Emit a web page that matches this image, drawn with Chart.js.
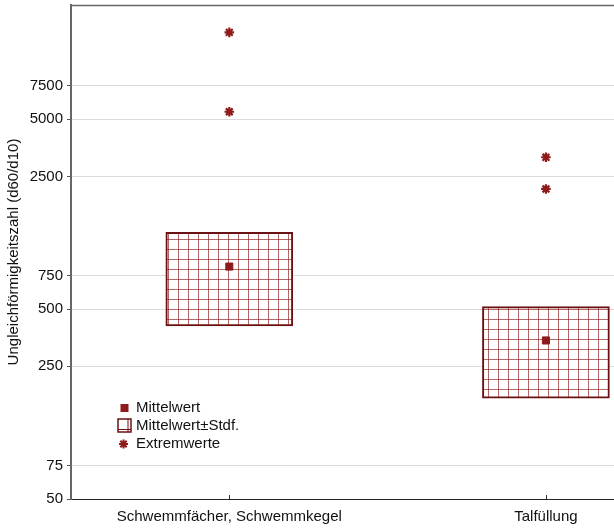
<!DOCTYPE html>
<html>
<head>
<meta charset="utf-8">
<script src="https://cdn.jsdelivr.net/npm/chart.js@4/dist/chart.umd.min.js"></script>
<style>
  html, body { margin: 0; padding: 0; background: #fff; }
  canvas { display: block; }
</style>
</head>
<body>
<canvas id="c" width="614" height="529"></canvas>
<script>
// data
const categories = ['Schwemmfächer, Schwemmkegel', 'Talfüllung']
const catPos = [1, 2]
const means = [838, 342]
const stdLow = [408, 170]
const stdHigh = [1271, 516]
const extremeCat = [1, 1, 2, 2]
const extremeVals = [14350, 5480, 3155, 2148]
const yTicks = [50, 75, 250, 500, 750, 2500, 5000, 7500]
const yTitle = 'Ungleichförmigkeitszahl (d60/d10)'
const legendLabels = ['Mittelwert', 'Mittelwert±Stdf.', 'Extremwerte']

const FONT = { family: '"Liberation Sans", Arial, sans-serif', size: 15 }
const RED = '#8e1b1b'
const DARK = '#6a1212'

// Gitter-Muster für die Boxen
const tile = document.createElement('canvas')
tile.width = 10
tile.height = 10
const tctx = tile.getContext('2d')
tctx.fillStyle = '#ffffff'
tctx.fillRect(0, 0, 10, 10)
tctx.fillStyle = 'rgba(140, 25, 25, 0.65)'
tctx.fillRect(8, 0, 1, 10)
tctx.fillRect(0, 9, 10, 1)
const ctx = document.getElementById('c').getContext('2d')
const pattern = ctx.createPattern(tile, 'repeat')

const noPad = s => {
  s.paddingTop = 0
  s.paddingBottom = 0
  s.paddingLeft = 0
  s.paddingRight = 0
}

const framePlugin = {
  id: 'frame',
  afterDraw(chart) {
    const c = chart.ctx
    const a = chart.chartArea
    const xs = chart.scales.x
    c.save()
    // obere Linie
    c.strokeStyle = '#666'
    c.lineWidth = 1.5
    c.beginPath()
    c.moveTo(a.left, a.top + 0.5)
    c.lineTo(a.right, a.top + 0.5)
    c.stroke()
    // kleine Striche an der x-Achse
    c.strokeStyle = '#333'
    c.lineWidth = 1
    catPos.forEach(p => {
      const px = Math.round(xs.getPixelForValue(p)) + 0.5
      c.beginPath()
      c.moveTo(px, a.bottom)
      c.lineTo(px, a.bottom - 4)
      c.stroke()
    })
    // Legende
    const lx = 124.5
    const tx = 136
    const rows = [408, 426, 444]
    c.font = `${FONT.size}px ${FONT.family}`
    c.fillStyle = '#111'
    c.textBaseline = 'middle'
    c.textAlign = 'left'
    legendLabels.forEach((t, i) => c.fillText(t, tx, rows[i]))
    // Mittelwert
    c.fillStyle = RED
    c.fillRect(lx - 4, rows[0] - 4, 8, 8)
    // Box
    c.strokeStyle = DARK
    c.lineWidth = 1.5
    c.strokeRect(lx - 6.5, rows[1] - 7, 13, 13)
    c.lineWidth = 1
    c.beginPath()
    c.moveTo(lx - 6.5, rows[1] + 3.5)
    c.lineTo(lx + 6.5, rows[1] + 3.5)
    c.moveTo(lx + 3.5, rows[1] - 7)
    c.lineTo(lx + 3.5, rows[1] + 6)
    c.stroke()
    // Stern
    c.strokeStyle = RED
    c.lineWidth = 2
    const r = 4.5
    c.beginPath()
    for (let k = 0; k < 4; k++) {
      const ang = k * Math.PI / 4
      c.moveTo(lx - 1 + Math.cos(ang) * r, rows[2] + Math.sin(ang) * r)
      c.lineTo(lx - 1 - Math.cos(ang) * r, rows[2] - Math.sin(ang) * r)
    }
    c.stroke()
    c.restore()
  }
}

new Chart(ctx, {
  type: 'scatter',
  data: {
    datasets: [
      {
        type: 'bar',
        label: legendLabels[1],
        data: catPos.map((p, i) => ({ x: p, y: [stdLow[i], stdHigh[i]] })),
        backgroundColor: pattern,
        borderColor: DARK,
        borderWidth: 2,
        borderSkipped: false,
        barThickness: 127,
        order: 3
      },
      {
        label: legendLabels[0],
        data: catPos.map((p, i) => ({ x: p, y: means[i] })),
        pointStyle: 'rect',
        pointRadius: 5,
        pointBorderWidth: 1,
        backgroundColor: RED,
        borderColor: RED,
        order: 1
      },
      {
        label: legendLabels[2],
        data: extremeCat.map((p, i) => ({ x: p, y: extremeVals[i] })),
        pointStyle: 'star',
        pointRadius: 4.8,
        pointBorderWidth: 2.2,
        backgroundColor: RED,
        borderColor: RED,
        order: 2
      }
    ]
  },
  options: {
    responsive: false,
    animation: false,
    layout: { autoPadding: false, padding: { top: 5, right: 0, left: 0, bottom: 0 } },
    plugins: {
      legend: { display: false },
      tooltip: { enabled: false }
    },
    scales: {
      x: {
        type: 'linear',
        min: 0.5,
        max: 2.215,
        offset: false,
        afterBuildTicks: s => { s.ticks = catPos.map(v => ({ value: v })) },
        afterFit: s => { s.height = 30; noPad(s) },
        ticks: {
          autoSkip: false,
          maxRotation: 0,
          padding: 9,
          color: '#111',
          font: FONT,
          callback: v => categories[catPos.indexOf(v)]
        },
        grid: { display: true, drawOnChartArea: false, drawTicks: false, offset: false },
        border: { color: '#222', width: 1 }
      },
      y: {
        type: 'logarithmic',
        min: 50,
        max: 20000,
        afterBuildTicks: s => { s.ticks = yTicks.map(v => ({ value: v })) },
        afterFit: s => { s.width = 71; noPad(s) },
        ticks: {
          autoSkip: false,
          padding: 4,
          color: '#111',
          font: FONT,
          callback: v => String(v)
        },
        grid: { color: '#dadada', tickColor: '#555', tickLength: 4 },
        border: { color: '#666', width: 2 },
        title: {
          display: true,
          text: yTitle,
          color: '#111',
          font: FONT,
          padding: { top: 5, bottom: 0 }
        }
      }
    }
  },
  plugins: [framePlugin]
})
</script>
</body>
</html>
